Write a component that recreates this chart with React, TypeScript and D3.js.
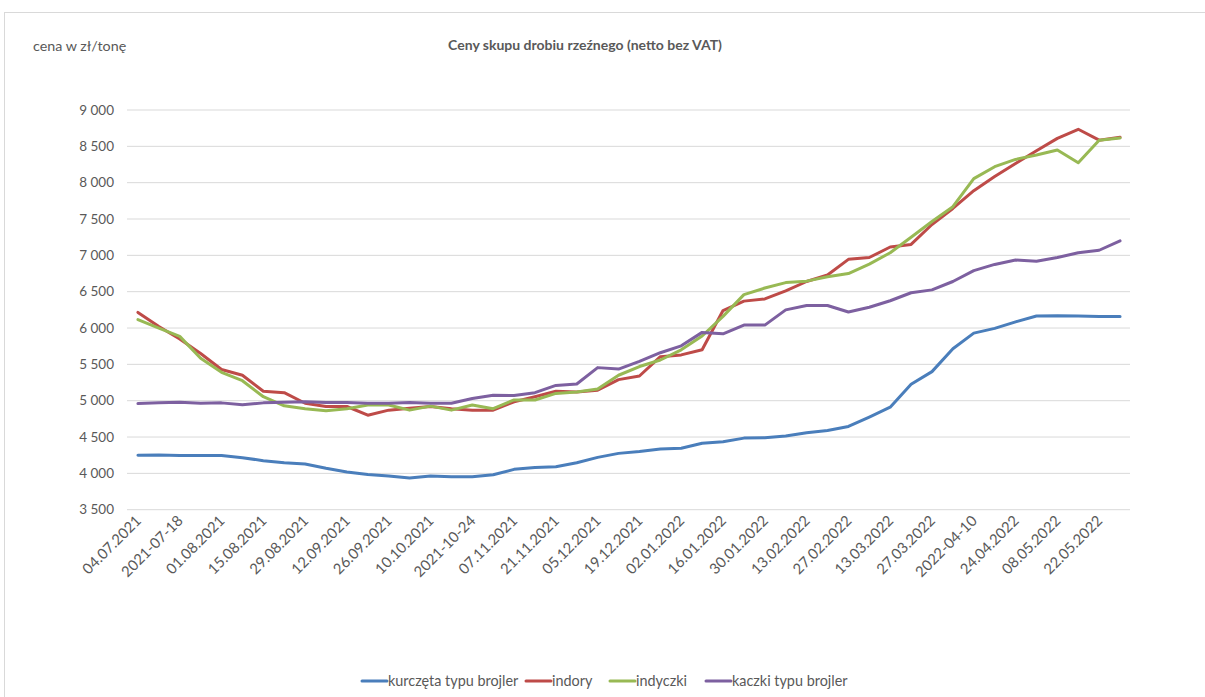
import React, { useEffect } from 'react';
import * as d3 from 'd3';

// weekly dates (labels shown every second week, as in the source)
const dates = [
  '04.07.2021', '11.07.2021', '2021-07-18', '25.07.2021', '01.08.2021', '08.08.2021',
  '15.08.2021', '22.08.2021', '29.08.2021', '05.09.2021', '12.09.2021', '19.09.2021',
  '26.09.2021', '03.10.2021', '10.10.2021', '17.10.2021', '2021-10-24', '31.10.2021',
  '07.11.2021', '14.11.2021', '21.11.2021', '28.11.2021', '05.12.2021', '12.12.2021',
  '19.12.2021', '26.12.2021', '02.01.2022', '09.01.2022', '16.01.2022', '23.01.2022',
  '30.01.2022', '06.02.2022', '13.02.2022', '20.02.2022', '27.02.2022', '06.03.2022',
  '13.03.2022', '20.03.2022', '27.03.2022', '03.04.2022', '2022-04-10', '17.04.2022',
  '24.04.2022', '01.05.2022', '08.05.2022', '15.05.2022', '22.05.2022', '29.05.2022',
];

const kurczeta = [
  4250, 4252, 4245, 4245, 4245, 4215, 4175, 4145, 4130, 4070, 4020, 3985,
  3965, 3935, 3965, 3955, 3955, 3980, 4055, 4080, 4090, 4145, 4220, 4275,
  4300, 4335, 4345, 4415, 4435, 4485, 4490, 4515, 4560, 4590, 4645, 4775,
  4910, 5225, 5400, 5715, 5930, 5995, 6085, 6165, 6170, 6165, 6160, 6160,
];

const indory = [
  6215, 6020, 5850, 5650, 5430, 5350, 5130, 5110, 4965, 4920, 4920, 4800,
  4870, 4895, 4920, 4890, 4870, 4870, 4985, 5055, 5130, 5120, 5145, 5290,
  5340, 5605, 5630, 5700, 6240, 6370, 6400, 6510, 6640, 6730, 6945, 6970,
  7115, 7150, 7425, 7645, 7890, 8085, 8265, 8440, 8610, 8735, 8585, 8625,
];

const indyczki = [
  6115, 6000, 5885, 5585, 5390, 5275, 5055, 4930, 4890, 4860, 4890, 4940,
  4940, 4870, 4925, 4870, 4940, 4890, 5010, 5010, 5100, 5120, 5160, 5350,
  5470, 5560, 5700, 5890, 6160, 6460, 6550, 6625, 6645, 6705, 6750, 6880,
  7035, 7250, 7465, 7670, 8055, 8220, 8320, 8380, 8450, 8275, 8585, 8615,
];

const kaczki = [
  4960, 4970, 4980, 4965, 4970, 4945, 4970, 4980, 4985, 4975, 4975, 4965,
  4965, 4975, 4965, 4965, 5030, 5075, 5070, 5110, 5210, 5230, 5455, 5435,
  5540, 5660, 5755, 5940, 5920, 6040, 6040, 6250, 6310, 6310, 6220, 6285,
  6375, 6485, 6525, 6640, 6790, 6875, 6935, 6920, 6970, 7035, 7070, 7200,
];

const seriesNames = ['kurczęta typu brojler', 'indory', 'indyczki', 'kaczki typu brojler'];
const seriesValues = [kurczeta, indory, indyczki, kaczki];
const colors = ['#4a7ebb', '#be4b48', '#98b954', '#7d60a0'];
const yTicks = [3500, 4000, 4500, 5000, 5500, 6000, 6500, 7000, 7500, 8000, 8500, 9000];

const W = 1205;
const H = 697;
const FONT = 'Lato, "Open Sans", sans-serif';
const TXT = '#595959';

const App = () => {
  useEffect(() => {
    document.body.style.margin = '0';
  }, []);

  const x = d3.scalePoint<string>().domain(dates).range([127.5, 1130.5]).padding(0.5);
  const y = d3.scaleLinear().domain([3500, 9000]).range([509.7, 110]);
  const fmt = (v: number) => d3.format(',')(v).replace(',', ' ');

  const line = d3.line<number>()
    .x((_, i) => x(dates[i]) as number)
    .y(d => y(d));

  const legendX = [362, 526, 610, 706];

  return (
    <svg width={W} height={H} style={{ display: 'block', fontFamily: FONT }}>
      <rect x={0} y={0} width={W} height={H} fill="#fff" />
      <rect x={4.5} y={12.5} width={W + 10} height={H + 10} fill="none" stroke="#d9d9d9" />

      <text x={33} y={51} fontSize={14.3} fill={TXT}>cena w zł/tonę</text>
      <text x={585} y={50} fontSize={14} fontWeight="bold" fill={TXT} textAnchor="middle">
        Ceny skupu drobiu rzeźnego (netto bez VAT)
      </text>

      {yTicks.map(t => (
        <g key={t}>
          <line x1={127} x2={1130} y1={y(t)} y2={y(t)} stroke="#d9d9d9" strokeWidth={1} />
          <text x={114} y={y(t)} dy="0.35em" fontSize={13.5} fill={TXT} textAnchor="end">{fmt(t)}</text>
        </g>
      ))}

      {dates.map((d, i) => i % 2 === 0 && (
        <text
          key={d}
          transform={`translate(${(x(d) as number) + 0.5},${518}) rotate(-45)`}
          fontSize={14.8}
          fill={TXT}
          textAnchor="end"
          dy="0.35em"
        >
          {d}
        </text>
      ))}

      {seriesValues.map((vals, k) => (
        <path
          key={seriesNames[k]}
          d={line(vals) || ''}
          fill="none"
          stroke={colors[k]}
          strokeWidth={3}
          strokeLinejoin="round"
          strokeLinecap="round"
        />
      ))}

      {seriesNames.map((n, k) => (
        <g key={n} transform={`translate(${legendX[k]},681)`}>
          <line x1={0} x2={25} y1={0} y2={0} stroke={colors[k]} strokeWidth={3} strokeLinecap="round" />
          <text x={26} y={0} dy="0.35em" fontSize={14.4} fill={TXT}>{n}</text>
        </g>
      ))}
    </svg>
  );
};

export default App;
